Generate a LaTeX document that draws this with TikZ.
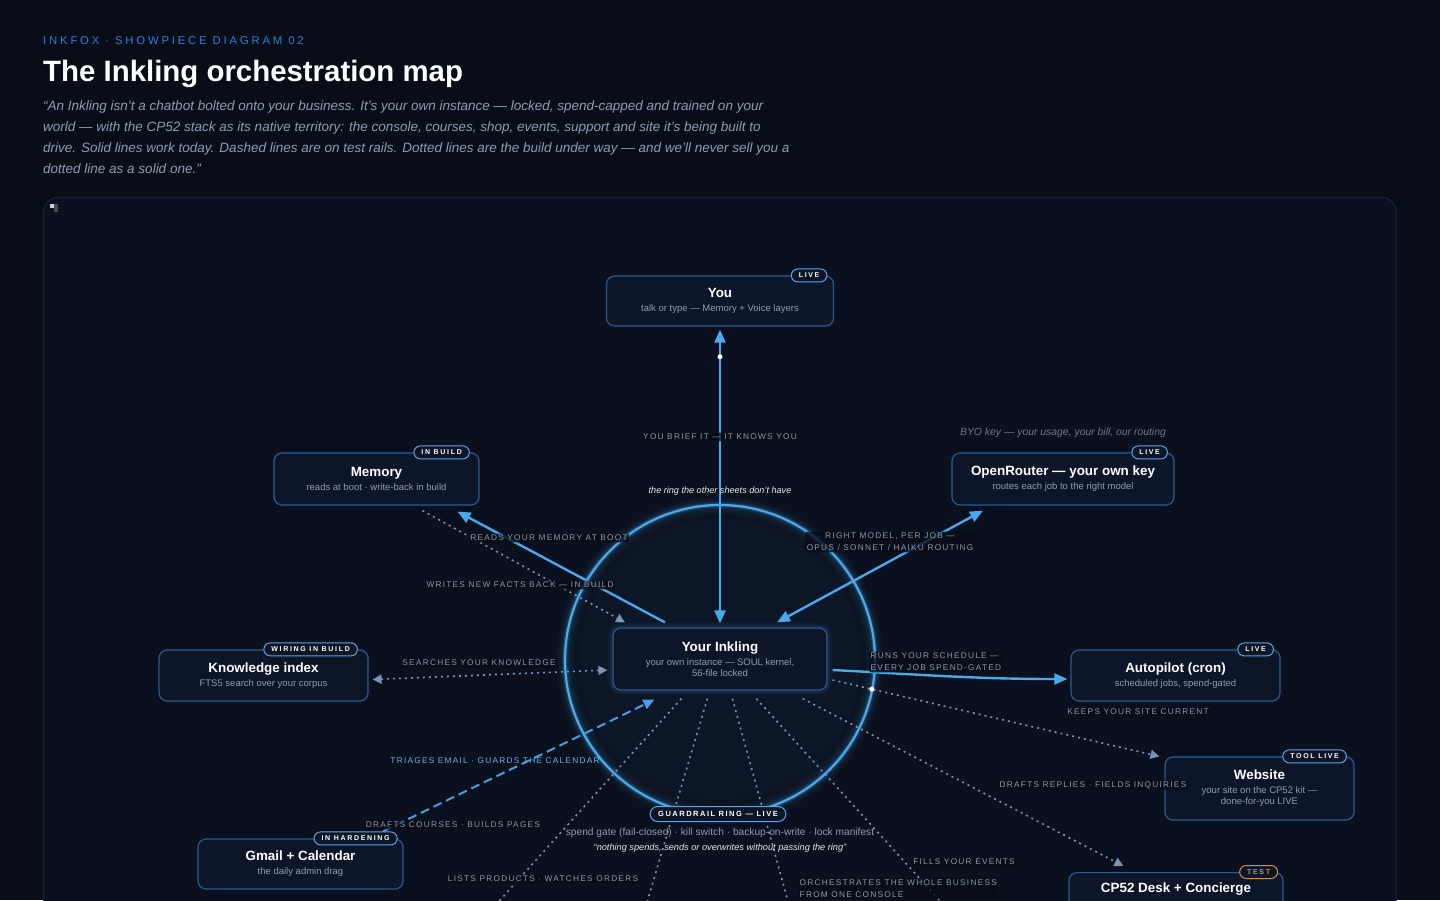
\documentclass[tikz,border=0pt]{standalone}
\usepackage{fontspec}
\setmainfont{Liberation Sans}
\usetikzlibrary{arrows.meta, calc, positioning}

\definecolor{bg}{HTML}{090D17}
\definecolor{panelf}{HTML}{0A101D}
\definecolor{panelb}{HTML}{18233A}
\definecolor{nodef}{HTML}{0D1628}
\definecolor{nodeb}{HTML}{2B5A90}
\definecolor{badgeb}{HTML}{5AA6E0}
\definecolor{subc}{HTML}{8E9CB2}
\definecolor{lblc}{HTML}{8A99AF}
\definecolor{linec}{HTML}{4AA8EC}
\definecolor{dotc}{HTML}{7893B8}
\definecolor{gmc}{HTML}{4C9CE0}
\definecolor{hdrc}{HTML}{2D7FE0}
\definecolor{orng}{HTML}{E08A3C}

\newcommand\nt[1]{{\bfseries\fontsize{13.4}{16}\selectfont\color{white}#1}}
\newcommand\ns[1]{{\fontsize{9.5}{12}\selectfont\color{subc}#1}}

\tikzset{
    box/.style={draw=nodeb, fill=nodef, line width=1.2pt, rounded corners=8pt, align=center, inner sep=0pt},
    badge/.style={draw=badgeb, fill=nodef, line width=1pt, rounded corners=6.5pt, minimum height=13pt, inner xsep=7.5pt, inner ysep=0pt, text=white, font=\bfseries\fontsize{7}{8}\selectfont\addfontfeatures{LetterSpace=24}},
    lbl/.style={fill=bg, fill opacity=0.8, text opacity=1, text=lblc, inner sep=1.5pt, rounded corners=2pt, font=\fontsize{8.3}{12}\selectfont\addfontfeatures{LetterSpace=15}},
    e/.style={draw=linec, line width=2.4pt, >={Triangle[length=13pt,width=11pt]}}, % works today
    de/.style={draw=dotc, line width=1.6pt, dash pattern=on 2pt off 4pt, >={Triangle[length=9pt,width=9pt]}}, % build under way
    ge/.style={draw=gmc, line width=2pt, dash pattern=on 9pt off 5pt, >={Triangle[length=11pt,width=10pt]}}, % test rails
    dotw/.style={circle, fill=white, inner sep=0pt, minimum size=5pt}
}

\begin{document}
\begin{tikzpicture}[x=1pt, y=-1pt]
    \useasboundingbox (0,0) rectangle (1440,900);
    \clip (0,0) rectangle (1440,900);
    \fill[bg] (0,0) rectangle (1440,900);

    % header
    \node[anchor=west, inner sep=0pt, text=hdrc, font=\fontsize{11.3}{13}\selectfont\addfontfeatures{LetterSpace=25}] (kicker) at (43,41) {INKFOX · SHOWPIECE DIAGRAM 02};
    \node[anchor=west, inner sep=0pt, text=white, font=\bfseries\fontsize{29.4}{33}\selectfont] (title) at (43,74) {The Inkling orchestration map};
    \node[anchor=north west, inner sep=0pt, align=left, text=subc, font=\itshape\fontsize{13.5}{21}\selectfont] (lede) at (43,101)
        {“An Inkling isn’t a chatbot bolted onto your business. It’s your own instance — locked, spend-capped and trained on your\\
         world — with the CP52 stack as its native territory: the console, courses, shop, events, support and site it’s being built to\\
         drive. Solid lines work today. Dashed lines are on test rails. Dotted lines are the build under way — and we’ll never sell you a\\
         dotted line as a solid one.”};

    % panel
    \draw[panelb, fill=panelf, line width=1pt, rounded corners=14pt] (43.5,197.5) rectangle (1396,960);
    \fill[white, opacity=0.8] (50,204) rectangle (54,208);
    \fill[white, opacity=0.25] (54,204) rectangle (58,212);

    % guardrail ring
    \foreach \r/\o in {152/0.03, 140/0.02}
        \fill[linec, opacity=\o] (720,660) circle[radius=\r];
    \foreach \w/\o in {18/0.035, 12/0.06, 7/0.1, 4.5/0.18}
        \draw[linec, line width=\w pt, opacity=\o] (720,660) circle[radius=155];
    \draw[linec, line width=2.2pt] (720,660) circle[radius=155];

    % nodes
    \node[box, minimum width=227pt, minimum height=50pt] (you) at (720,301) {\nt{You}\\[2pt]\ns{talk or type — Memory + Voice layers}};
    \node[box, minimum width=205pt, minimum height=52pt] (mem) at (376.5,479) {\nt{Memory}\\[2pt]\ns{reads at boot · write-back in build}};
    \node[box, minimum width=222pt, minimum height=52pt] (or) at (1063,479) {\nt{OpenRouter — your own key}\\[2pt]\ns{routes each job to the right model}};
    \foreach \w/\o in {10/0.05, 6/0.08}
        \draw[linec, line width=\w pt, opacity=\o, rounded corners=8pt] (613,628) rectangle (827,690);
    \node[box, minimum width=214pt, minimum height=62pt] (ink) at (720,659) {\nt{Your Inkling}\\[2pt]\ns{your own instance — SOUL kernel,}\\[-1pt]\ns{56-file locked}};
    \node[box, minimum width=209pt, minimum height=51pt] (kn) at (263.5,675.5) {\nt{Knowledge index}\\[2pt]\ns{FTS5 search over your corpus}};
    \node[box, minimum width=209pt, minimum height=51pt] (ap) at (1175.5,675.5) {\nt{Autopilot (cron)}\\[2pt]\ns{scheduled jobs, spend-gated}};
    \node[box, minimum width=189pt, minimum height=63pt] (web) at (1259.5,788.5) {\nt{Website}\\[2pt]\ns{your site on the CP52 kit —}\\[-1pt]\ns{done-for-you LIVE}};
    \node[box, minimum width=205pt, minimum height=50pt] (gm) at (300.5,864) {\nt{Gmail + Calendar}\\[2pt]\ns{the daily admin drag}};
    \node[box, minimum width=214pt, minimum height=60pt, anchor=north] (cp) at (1176,872) {\nt{CP52 Desk + Concierge}\\[17pt]};

    % off-sheet ends
    \coordinate (sw) at (410,1000);
    \coordinate (ssw) at (618,1000);
    \coordinate (sse) at (815,1000);
    \coordinate (se) at (1030,1000);

    % connectors
    \draw[e, <->, shorten <=3pt, shorten >=4pt] (you.south) -- node[dotw, pos=0.1] (youdot) {} (ink.north);
    \draw[e, ->] ($(ink.north)+(-55,-5)$) -- ($(mem.south)+(81,6)$);
    \draw[de, ->] ($(mem.south)+(46,5)$) -- ($(ink.north)+(-95,-5)$);
    \draw[e, <->] ($(or.south)+(-80,5)$) -- ($(ink.north)+(57,-5)$);
    \draw[de, <->] ($(ink.west)+(-5,11)$) -- ($(kn.east)+(4,4)$);
    \draw[e, ->] ($(ink.east)+(5,11)$) to[out=-3, in=180] ($(ap.west)+(-3,3.5)$);
    \draw[de, ->] ($(ink.east)+(5,21)$) -- node[dotw, pos=0.12] (webdot) {} ($(web.north west)+(-5,0)$);
    \draw[de, ->] ($(ink.south east)+(-25,8)$) -- ($(cp.north west)+(55,-6)$);
    \draw[ge, ->] ($(gm.north)+(70,-1)$) -- ($(ink.south west)+(42,9)$);
    \draw[de] ($(ink.south west)+(69,8)$) -- (sw);
    \draw[de] ($(ink.south west)+(95,8)$) -- (ssw);
    \draw[de] ($(ink.south west)+(120,8)$) -- (sse);
    \draw[de] ($(ink.south west)+(144,8)$) -- (se);

    % connector labels
    \node[lbl] (l-brief) at (720,437) {YOU BRIEF IT — IT KNOWS YOU};
    \node[text=white!80!subc, inner sep=0pt, font=\itshape\fontsize{9.1}{10}\selectfont] (l-ring) at (720,491) {the ring the other sheets don’t have};
    \node[lbl] (l-reads) at (549,538) {READS YOUR MEMORY AT BOOT};
    \node[lbl] (l-writes) at (520,585) {WRITES NEW FACTS BACK — IN BUILD};
    \node[lbl, align=center] (l-model) at (890,542) {RIGHT MODEL, PER JOB —\\OPUS / SONNET / HAIKU ROUTING};
    \node[lbl] (l-search) at (479,663) {SEARCHES YOUR KNOWLEDGE};
    \node[lbl, align=left, anchor=west] (l-sched) at (869,662) {RUNS YOUR SCHEDULE —\\EVERY JOB SPEND-GATED};
    \node[lbl] (l-site) at (1138,712) {KEEPS YOUR SITE CURRENT};
    \node[lbl] (l-replies) at (1093,785) {DRAFTS REPLIES · FIELDS INQUIRIES};
    \node[lbl, fill opacity=0, text=gmc!80!white] (l-email) at (495,761) {TRIAGES EMAIL · GUARDS THE CALENDAR};
    \node[lbl] (l-courses) at (453,825) {DRAFTS COURSES · BUILDS PAGES};
    \node[lbl] (l-shop) at (543,879) {LISTS PRODUCTS · WATCHES ORDERS};
    \node[lbl] (l-events) at (964,862) {FILLS YOUR EVENTS};
    \node[lbl, align=left, anchor=north west] (l-console) at (798,878) {ORCHESTRATES THE WHOLE BUSINESS\\FROM ONE CONSOLE};
    \node[text=subc!75!bg, inner sep=0pt, font=\itshape\fontsize{10.4}{12}\selectfont] (l-byo) at (1063,433) {BYO key — your usage, your bill, our routing};

    % ring notes
    \node[badge, minimum height=15pt, rounded corners=7.5pt, inner xsep=8pt, font=\bfseries\fontsize{7.5}{8}\selectfont\addfontfeatures{LetterSpace=20}] (ringb) at (718,814) {GUARDRAIL RING — LIVE};
    \node[text=subc, inner sep=0pt, font=\fontsize{10.2}{12}\selectfont] (ringnote) at (720,833) {spend gate (fail-closed) · kill switch · backup-on-write · lock manifest};
    \node[text=white!75!subc, inner sep=0pt, font=\itshape\fontsize{9.2}{10}\selectfont] (ringquote) at (720,848) {“nothing spends, sends or overwrites without passing the ring”};

    % status badges
    \node[badge] (youb) at ($(you.north east)+(-25,0)$) {LIVE};
    \node[badge] (memb) at ($(mem.north east)+(-38,0)$) {IN BUILD};
    \node[badge] (orb) at ($(or.north east)+(-25,0)$) {LIVE};
    \node[badge] (knb) at ($(kn.north east)+(-58,0)$) {WIRING IN BUILD};
    \node[badge] (apb) at ($(ap.north east)+(-25,0)$) {LIVE};
    \node[badge] (webb) at ($(web.north east)+(-40,0)$) {TOOL LIVE};
    \node[badge] (gmb) at ($(gm.north east)+(-48,0)$) {IN HARDENING};
    \node[badge, draw=orng, text=orng] (cpb) at ($(cp.north east)+(-25,0)$) {TEST};
\end{tikzpicture}
\end{document}
